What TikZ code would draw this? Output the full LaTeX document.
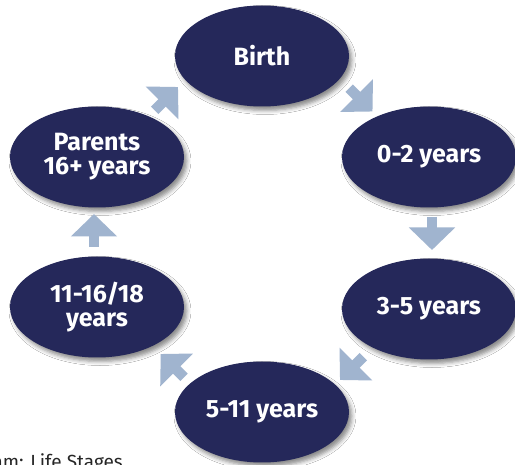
\documentclass[tikz,border=0pt]{standalone}
\usepackage{fontspec}
\setmainfont{Fira Sans}
\usetikzlibrary{shapes.geometric,arrows.meta,shadows.blur}
\definecolor{navy}{RGB}{37,40,90}
\definecolor{arrblue}{RGB}{160,180,207}
\begin{document}
\begin{tikzpicture}[x=1pt,y=-1pt,
  stage/.style={ellipse,fill=navy,draw=none,minimum width=174pt,minimum height=101pt,inner sep=0pt,
    text=white,font=\fontsize{25}{24}\selectfont\bfseries,align=center,
    blur shadow={shadow xshift=3pt,shadow yshift=-4pt,shadow blur radius=4pt,shadow opacity=45}},
  blockarr/.style={draw=arrblue,line width=10.5pt,line cap=butt,
    -{Triangle[width=45pt,length=22.5pt,fill=arrblue,color=arrblue]}},
  caption/.style={font=\fontsize{19}{20}\selectfont,text=black!85,inner sep=0pt}]
\useasboundingbox (0,0) rectangle (515,465);
\fill[white] (0,0) rectangle (515,465);
\node[stage] (birth) at (262,56) {Birth};
\node[stage] (zero) at (429,157) {0-2 years};
\node[stage] (three) at (429,309) {3-5 years};
\node[stage] (five) at (262,412) {5-11 years};
\node[stage] (eleven) at (97,307) {11-16/18\\years};
\node[stage] (parents) at (97,157) {Parents\\16+ years};
% arrow end points
\coordinate (a1t) at (349.2,88.2);  \coordinate (a1h) at (372.5,111.5);
\coordinate (a2t) at (432,217);     \coordinate (a2h) at (432,250);
\coordinate (a3t) at (363.3,356.7); \coordinate (a3h) at (340,380);
\coordinate (a4t) at (184,377.3);   \coordinate (a4h) at (160.7,354);
\coordinate (a5t) at (94,247);      \coordinate (a5h) at (94,214);
\coordinate (a6t) at (154.7,110.3); \coordinate (a6h) at (178,87);
\draw[blockarr] (a1t) -- (a1h);
\draw[blockarr] (a2t) -- (a2h);
\draw[blockarr] (a3t) -- (a3h);
\draw[blockarr] (a4t) -- (a4h);
\draw[blockarr] (a5t) -- (a5h);
\draw[blockarr] (a6t) -- (a6h);
\node[caption,anchor=base east] (cap) at (123,469) {Diagram: Life Stages};
\end{tikzpicture}
\end{document}
